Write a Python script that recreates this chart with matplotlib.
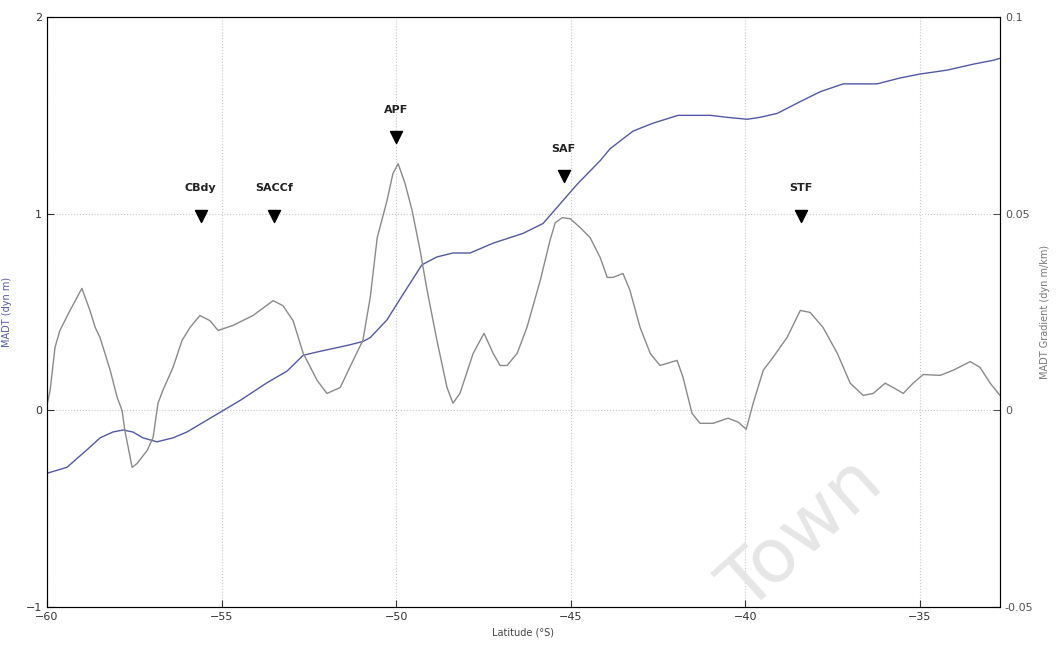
import matplotlib
matplotlib.use("Agg")
import matplotlib.pyplot as plt

# latitude (deg) / MADT (dyn m)
lat_madt = [-60.00, -59.43, -58.85, -58.48, -58.11, -57.82, -57.54, -57.25, -56.85, -56.39,
            -55.99, -55.42, -55.04, -54.47, -53.70, -53.12, -52.66, -52.18, -51.40, -50.95,
            -50.74, -50.26, -49.80, -49.26, -48.83, -48.37, -47.88, -47.22, -46.36, -45.79,
            -45.30, -44.81, -44.15, -43.87, -43.21, -42.64, -41.92, -41.00, -40.52, -39.94,
            -39.57, -39.08, -38.42, -37.85, -37.19, -36.62, -36.22, -35.56, -34.99, -34.21,
            -33.47, -32.89, -32.70]
madt = [-0.32, -0.29, -0.20, -0.14, -0.11, -0.10, -0.11, -0.14, -0.16, -0.14,
        -0.11, -0.05, -0.01, 0.05, 0.14, 0.20, 0.28, 0.30, 0.33, 0.35,
        0.37, 0.46, 0.59, 0.74, 0.78, 0.80, 0.80, 0.85, 0.90, 0.95,
        1.05, 1.15, 1.27, 1.33, 1.42, 1.46, 1.50, 1.50, 1.49, 1.48,
        1.49, 1.51, 1.57, 1.62, 1.66, 1.66, 1.66, 1.69, 1.71, 1.73,
        1.76, 1.78, 1.79]

# latitude (deg) / MADT gradient
lat_grad = [-60.00, -59.91, -59.77, -59.63, -59.34, -59.00, -58.77, -58.62, -58.48, -58.19,
            -57.99, -57.85, -57.77, -57.56, -57.42, -57.13, -56.96, -56.82, -56.68, -56.39,
            -56.13, -55.90, -55.62, -55.33, -55.10, -54.67, -54.10, -53.52, -53.24, -52.95,
            -52.66, -52.26, -51.98, -51.60, -51.23, -50.95, -50.74, -50.54, -50.26, -50.09,
            -49.94, -49.74, -49.54, -49.31, -49.11, -48.83, -48.54, -48.37, -48.17, -47.79,
            -47.48, -47.22, -47.02, -46.82, -46.53, -46.25, -45.87, -45.59, -45.44, -45.24,
            -45.01, -44.73, -44.44, -44.15, -43.95, -43.78, -43.50, -43.30, -43.01, -42.72,
            -42.44, -41.95, -41.78, -41.52, -41.29, -40.92, -40.49, -40.20, -39.97, -39.77,
            -39.48, -39.20, -38.80, -38.42, -38.14, -37.77, -37.36, -36.99, -36.62, -36.33,
            -35.99, -35.76, -35.47, -35.19, -34.90, -34.41, -34.04, -33.55, -33.27, -32.98,
            -32.70]
grad = [0.0013, 0.0051, 0.0160, 0.0203, 0.0254, 0.0310, 0.0254, 0.0211, 0.0185, 0.0102,
        0.0033, 0.0000, -0.0051, -0.0145, -0.0135, -0.0102, -0.0069, 0.0018, 0.0051, 0.0109,
        0.0178, 0.0211, 0.0241, 0.0228, 0.0203, 0.0216, 0.0241, 0.0279, 0.0266, 0.0228,
        0.0145, 0.0076, 0.0043, 0.0058, 0.0127, 0.0178, 0.0287, 0.0439, 0.0533, 0.0602,
        0.0627, 0.0576, 0.0508, 0.0406, 0.0305, 0.0178, 0.0058, 0.0018, 0.0043, 0.0145,
        0.0196, 0.0145, 0.0114, 0.0114, 0.0145, 0.0211, 0.0330, 0.0432, 0.0477, 0.0490,
        0.0487, 0.0465, 0.0439, 0.0388, 0.0338, 0.0338, 0.0348, 0.0305, 0.0211, 0.0145,
        0.0114, 0.0127, 0.0084, -0.0008, -0.0033, -0.0033, -0.0020, -0.0030, -0.0048, 0.0018,
        0.0102, 0.0135, 0.0185, 0.0254, 0.0249, 0.0211, 0.0145, 0.0069, 0.0038, 0.0043,
        0.0069, 0.0058, 0.0043, 0.0069, 0.0091, 0.0089, 0.0102, 0.0124, 0.0109, 0.0069,
        0.0038]

# fronts
front_names = ['CBdy', 'SACCf', 'APF', 'SAF', 'STF']
front_lat = [-55.6, -53.5, -50.0, -45.2, -38.4]
front_y = [0.99, 0.99, 1.39, 1.19, 0.99]

blue = '#5458a6'
grey = '#8a8a8a'

fig = plt.figure(figsize=(10.63, 6.49), dpi=100)
ax = fig.add_axes([0.0442, 0.0647, 0.8965, 0.9091])
ax2 = ax.twinx()

ax.plot(lat_madt, madt, color=blue, lw=1.0)
ax2.plot(lat_grad, grad, color=grey, lw=1.0)

ax.set_xlim(-60, -32.7)
ax.set_ylim(-1, 2)
ax2.set_ylim(-0.05, 0.1)
ax.set_xticks([-60, -55, -50, -45, -40, -35])
ax.set_yticks([-1, 0, 1, 2])
ax2.set_yticks([-0.05, 0, 0.05, 0.1])
ax2.set_yticklabels(['-0.05', '0', '0.05', '0.1'])

ax.grid(True, linestyle=':', color='#c8c8c8', lw=0.8)
ax.tick_params(direction='in', labelsize=8, length=5, colors='#333333')
ax2.tick_params(direction='in', labelsize=8, length=5, colors='#555555')

# fronts markers
ax.scatter(front_lat, front_y, marker='v', s=75, color='black', zorder=5)
for nm, xx, yy in zip(front_names, front_lat, front_y):
    ax.annotate(nm, (xx, yy), xytext=(0, 16), textcoords='offset points',
                ha='center', va='bottom', fontsize=8, fontweight='bold', color='#222222')

ax.set_xlabel('Latitude (°S)', fontsize=7, color='#444444', labelpad=4)
ax.set_ylabel('MADT (dyn m)', fontsize=7, color=blue, labelpad=10)
ax2.set_ylabel('MADT Gradient (dyn m/km)', fontsize=7, color='#777777', labelpad=5)

for sp in ax.spines.values():
    sp.set_color('#444444')

# watermark
fig.text(0.755, 0.175, 'Town', fontsize=54, color='#e6e6e6', rotation=42,
         ha='center', va='center', zorder=0)

fig.savefig('out.png', dpi=100)
